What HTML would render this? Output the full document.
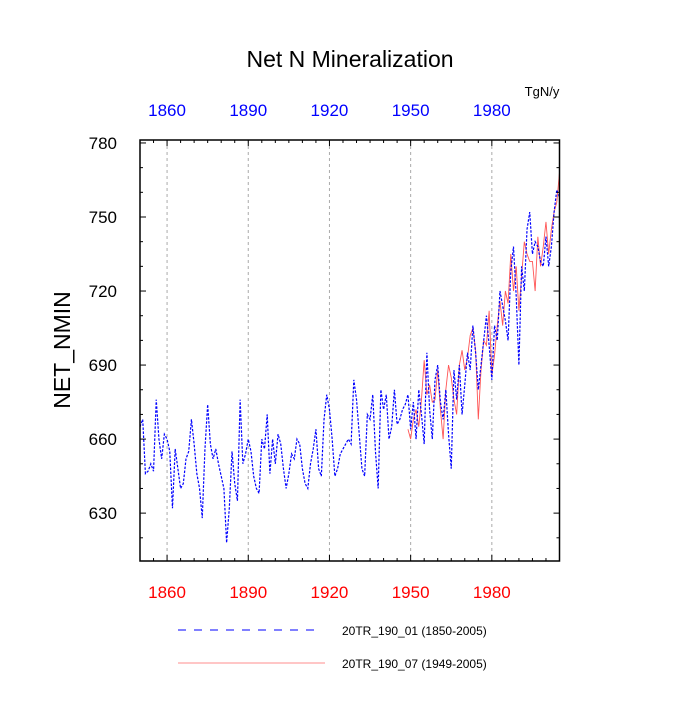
<!DOCTYPE html>
<html><head><meta charset="utf-8"><style>body{margin:0;background:#fff}svg text{font-family:"Liberation Sans",sans-serif}</style></head>
<body>
<svg id="chart" width="700" height="700" xmlns="http://www.w3.org/2000/svg">
<text x="350" y="67" font-size="23" text-anchor="middle">Net N Mineralization</text>
<text x="542" y="96" font-size="13" text-anchor="middle">TgN/y</text>
<text transform="translate(70,350) rotate(-90)" font-size="23" text-anchor="middle">NET_NMIN</text>
<g id="grid"></g><g id="series"></g><g id="axes"></g>
<g>
<line x1="178" y1="630" x2="318" y2="630" stroke="#00f" stroke-dasharray="8,8"/>
<text x="342" y="635" font-size="12">20TR_190_01 (1850-2005)</text>
<line x1="178" y1="663" x2="325" y2="663" stroke="#f66" stroke-width="0.8"/>
<text x="342" y="668" font-size="12">20TR_190_07 (1949-2005)</text>
</g>
</svg>
<script>
const blueStart = 1850;
const blueValues = [665,668,646,647,650,647,676,660,652,662,
660,655,632,656,648,640,642,652,655,668,
658,646,640,628,656,674,658,652,656,650,
645,640,618,632,655,642,635,676,650,654,
660,655,645,640,638,660,656,670,646,660,
650,662,658,648,640,646,654,652,660,658,
648,642,640,650,656,664,648,645,668,678,
672,660,645,648,654,656,658,660,658,684,
676,662,648,645,670,668,678,655,640,680,
672,678,660,665,680,666,668,672,674,678,
664,675,660,680,670,658,695,672,660,684,
690,675,668,680,662,648,688,676,690,670,
682,695,688,706,695,680,690,700,710,698,
684,706,700,720,714,708,700,728,738,718,
690,730,720,745,752,735,740,738,732,730,
742,730,738,752,761,758];
const redStart = 1949;
const redValues = [664,660,668,672,665,676,692,678,682,675,676,
688,672,660,680,690,685,676,670,690,696,
688,693,702,705,696,668,688,700,698,712,
686,694,706,716,706,720,715,735,720,730,
712,726,740,735,732,732,720,742,730,738,
748,735,745,752,756,768];
const xTicks = [1860,1890,1920,1950,1980];
const yTicks = [630,660,690,720,750,780];
const ns="http://www.w3.org/2000/svg";
const L=140,R=559.5,T=140,B=561;
const X0=1850,X1=2005,Ylo=610.6,Yhi=781.2;
const sx=v=>L+(v-X0)/(X1-X0)*(R-L);
const sy=v=>B-(v-Ylo)/(Yhi-Ylo)*(B-T);
function mk(tag,attrs,parent){const e=document.createElementNS(ns,tag);for(const k in attrs)e.setAttribute(k,attrs[k]);document.getElementById(parent).appendChild(e);return e;}
xTicks.forEach(t=>{
 const g=mk('line',{x1:sx(t),x2:sx(t),y1:T,y2:B,stroke:'#aaa','stroke-dasharray':'3,3'},'grid');
 
 
});
function poly(vals,start,attrs,name){
 const p=mk('polyline',Object.assign({points:vals.map((v,i)=>sx(start+i)+','+sy(v)).join(' '),fill:'none'},attrs),'series');
 
 
}
poly(redValues,redStart,{stroke:'#f55','stroke-width':0.9},'series-run07');
poly(blueValues,blueStart,{stroke:'#00f','stroke-width':1.2,'stroke-dasharray':'2.5,1.5'},'series-run01');
const fr=mk('rect',{x:L,y:T,width:R-L,height:B-T,fill:'none',stroke:'#000','stroke-width':1.5},'axes');


for(let y=1850;y<=2005;y+=5){
 const big=xTicks.includes(y);const len=big?6:3;
 mk('line',{x1:sx(y),x2:sx(y),y1:B,y2:B-len,stroke:'#000'},'axes');
 mk('line',{x1:sx(y),x2:sx(y),y1:T,y2:T+len,stroke:'#000'},'axes');
}
for(let v=620;v<=780;v+=10){
 const big=yTicks.includes(v);const len=big?6:3;
 mk('line',{x1:L,x2:L+len,y1:sy(v),y2:sy(v),stroke:'#000'},'axes');
 mk('line',{x1:R,x2:R-len,y1:sy(v),y2:sy(v),stroke:'#000'},'axes');
}
xTicks.forEach(t=>{
 const a=mk('text',{x:sx(t),y:598,'font-size':17,'text-anchor':'middle',fill:'#f00'},'axes');a.textContent=t;
 
 
 const b=mk('text',{x:sx(t),y:116,'font-size':17,'text-anchor':'middle',fill:'#00f'},'axes');b.textContent=t;
 
 
});
yTicks.forEach(v=>{
 const a=mk('text',{x:117,y:sy(v)+6,'font-size':17,'text-anchor':'end'},'axes');a.textContent=v;
 
 
});
</script>
</body></html>
